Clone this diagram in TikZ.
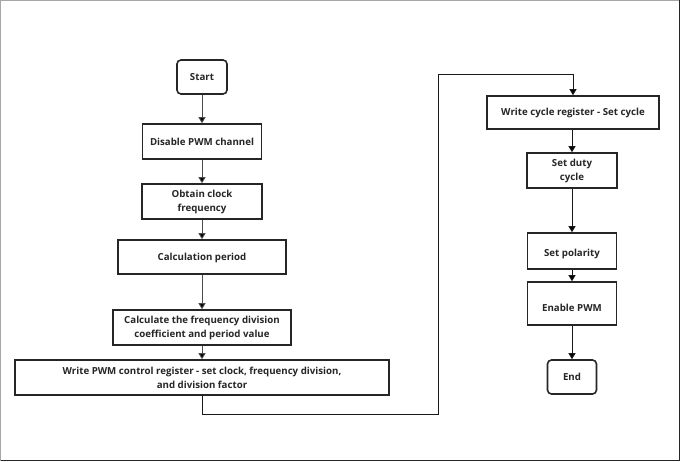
\documentclass[tikz,border=0pt]{standalone}
\usepackage{fontspec}
\setmainfont{Open Sans}
\usetikzlibrary{arrows.meta}
\begin{document}
\begin{tikzpicture}[x=1pt,y=-1pt,
  box/.style={draw=black!85, line width=1.6pt, fill=white, inner sep=0pt, align=center, font=\bfseries\fontsize{9.7}{14}\selectfont, text=black!85},
  term/.style={box, rounded corners=4pt},
  conn/.style={draw=black!70, line width=0.9pt, -{Triangle[length=6pt,width=7pt,fill=black]}},
  plain/.style={draw=black!90, line width=0.9pt}]
\useasboundingbox (0,0) rectangle (681,462);
\draw[draw=black!35, line width=1pt] (0.5,461) -- (0.5,0.5) -- (680,0.5);
\draw[draw=black!85, line width=1pt] (0.5,460.5) -- (679.5,460.5) -- (679.5,0.5);
% left column
\node[term, minimum width=50pt, minimum height=34pt] (start) at (202,77) {Start};
\node[box, minimum width=119pt, minimum height=35pt] (dis) at (202,141.5) {Disable PWM channel};
\node[box, minimum width=120pt, minimum height=35pt] (clk) at (202,201.5) {Obtain clock\\frequency};
\node[box, minimum width=168pt, minimum height=34pt, text height=10pt, text depth=2pt] (per) at (202,257) {Calculation period};
\node[box, minimum width=178pt, minimum height=35pt] (coef) at (202,327.5) {Calculate the frequency division\\coefficient and period value};
\node[box, minimum width=374pt, minimum height=35pt] (wpwm) at (202,377.5) {Write PWM control register - set clock, frequency division,\\and division factor};
% right column
\node[box, minimum width=172pt, minimum height=33pt] (wcyc) at (573,112.5) {Write cycle register - Set cycle};
\node[box, minimum width=90pt, minimum height=35pt] (duty) at (572,170.5) {Set duty\\cycle};
\node[box, minimum width=89pt, minimum height=36pt, text height=14pt, text depth=2pt] (pol) at (572,251) {Set polarity};
\node[box, minimum width=89pt, minimum height=43pt, text height=18pt, text depth=2pt] (en) at (572,303.5) {Enable PWM};
\node[term, minimum width=49pt, minimum height=34pt] (end) at (572,377) {End};
\coordinate (c1) at (202,414);
\coordinate (c2) at (438,414);
\coordinate (c3) at (438,74);
\coordinate (c4) at (573,74);
\draw[conn] (start) -- (dis);
\draw[conn] (dis) -- (clk);
\draw[conn] (clk) -- (per);
\draw[conn] (per) -- (coef);
\draw[conn] (coef) -- (wpwm);
\draw[plain] (wpwm.south) -- (c1) -- (c2) -- (c3) -- (c4);
\draw[conn, draw=black!90] (c4) -- (wcyc.north -| c4);
\draw[conn, draw=black!90] (wcyc.south -| duty) -- (duty);
\draw[conn, draw=black!90] (duty) -- (pol);
\draw[conn, draw=black!90] (pol) -- (en);
\draw[conn, draw=black!90] (en) -- (end);
\end{tikzpicture}
\end{document}
